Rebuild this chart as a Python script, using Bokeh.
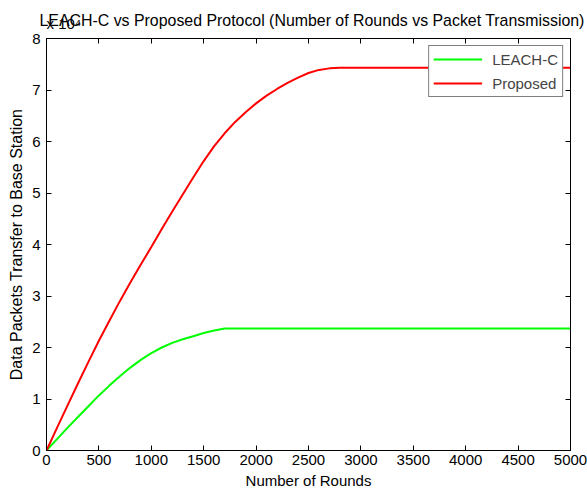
from bokeh.plotting import figure
from bokeh.models import (Range1d, FixedTicker, LinearAxis, Legend, LegendItem, Title,
                          CustomJSTickFormatter)
from bokeh.embed import file_html
from bokeh.resources import INLINE

# ---- data (packet counts in units of 10^4) ----
rounds_leach = [0, 100, 200, 300, 400, 500, 600, 700, 800, 900, 1000, 1100, 1200,
                1300, 1400, 1500, 1600, 1700, 2000, 3000, 4000, 5000]
leach_c = [0.0, 0.22, 0.44, 0.65, 0.86, 1.07, 1.26, 1.44, 1.61, 1.76, 1.89, 2.00, 2.09,
           2.16, 2.22, 2.28, 2.33, 2.37, 2.37, 2.37, 2.37, 2.37]

rounds_prop = [0, 100, 200, 300, 400, 500, 600, 700, 800, 900, 1000, 1100, 1200, 1300,
               1400, 1500, 1600, 1700, 1800, 1900, 2000, 2100, 2200, 2300, 2400, 2500,
               2600, 2700, 2800, 3000, 4000, 5000]
proposed = [0.0, 0.44, 0.87, 1.30, 1.72, 2.13, 2.52, 2.90, 3.26, 3.61, 3.95, 4.30, 4.64,
            4.97, 5.30, 5.62, 5.91, 6.16, 6.38, 6.57, 6.74, 6.89, 7.02, 7.14, 7.24, 7.33,
            7.39, 7.42, 7.43, 7.43, 7.43, 7.43]

x_ticks = [0, 500, 1000, 1500, 2000, 2500, 3000, 3500, 4000, 4500, 5000]
y_ticks = [0, 1, 2, 3, 4, 5, 6, 7, 8]

title_text = "LEACH-C vs Proposed Protocol (Number of Rounds vs Packet Transmission)"
exponent_text = "x 10\u2074"
x_label_text = "Number of Rounds"
y_label_text = "Data Packets Transfer to Base Station"
series_names = ["LEACH-C", "Proposed"]

FONT = "Liberation Sans"

p = figure(width=587, height=491, output_backend="svg", toolbar_location=None, title=None,
           x_range=Range1d(0, 5000), y_range=Range1d(0, 8),
           min_border_left=46, min_border_right=17, min_border_top=38, min_border_bottom=41)
p.background_fill_color = "white"
p.border_fill_color = "white"
p.outline_line_color = "black"
p.grid.visible = False

for ax, tk in ((p.xaxis[0], x_ticks), (p.yaxis[0], y_ticks)):
    ax.ticker = FixedTicker(ticks=tk)
    ax.major_tick_in = 5
    ax.major_tick_out = 0
    ax.minor_tick_line_color = None
    ax.axis_line_color = "black"
    ax.major_tick_line_color = "black"
    ax.major_label_text_font = FONT
    ax.major_label_text_font_size = "15px"
    ax.major_label_text_color = "black"
    ax.axis_label_text_font = FONT
    ax.axis_label_text_font_style = "normal"
    ax.axis_label_text_color = "black"

p.xaxis[0].major_label_standoff = 4
p.xaxis[0].axis_label = x_label_text
p.xaxis[0].axis_label_text_font_size = "15px"
p.xaxis[0].axis_label_standoff = 4
p.xaxis[0].major_label_text_line_height = 0.9
p.yaxis[0].major_label_standoff = 6
p.yaxis[0].axis_label = y_label_text
p.yaxis[0].axis_label_text_font_size = "16px"
p.yaxis[0].axis_label_standoff = 4

blank = CustomJSTickFormatter(code="return ''")
top_ax = LinearAxis(ticker=FixedTicker(ticks=x_ticks), formatter=blank,
                    major_tick_in=5, major_tick_out=0, minor_tick_line_color=None,
                    major_label_standoff=0, axis_line_color="black")
right_ax = LinearAxis(ticker=FixedTicker(ticks=y_ticks), formatter=blank,
                      major_tick_in=5, major_tick_out=0, minor_tick_line_color=None,
                      major_label_standoff=0, axis_line_color="black")
p.add_layout(top_ax, "above")
p.add_layout(right_ax, "right")

p.add_layout(Title(text=exponent_text, align="left", text_font=FONT, text_font_size="15px",
                   text_font_style="normal", text_color="black", standoff=12.6), "above")
p.add_layout(Title(text=title_text, align="left", offset=-7, text_font=FONT,
                   text_font_size="15.9px", text_font_style="normal", text_color="black",
                   standoff=-44), "above")

r1 = p.line(rounds_leach, leach_c, line_color="#00ff00", line_width=2)
r2 = p.line(rounds_prop, proposed, line_color="#ff0000", line_width=2)

legend = Legend(items=[LegendItem(label=series_names[0], renderers=[r1]),
                       LegendItem(label=series_names[1], renderers=[r2])],
                location="top_right", margin=7, padding=4, spacing=6,
                glyph_width=49, glyph_height=18, label_height=18, label_standoff=10,
                label_text_font=FONT, label_text_font_size="15px",
                border_line_color="black", border_line_width=1,
                background_fill_color="white", background_fill_alpha=1.0)
p.add_layout(legend, "center")

open("out.html", "w").write(file_html(p, INLINE))
